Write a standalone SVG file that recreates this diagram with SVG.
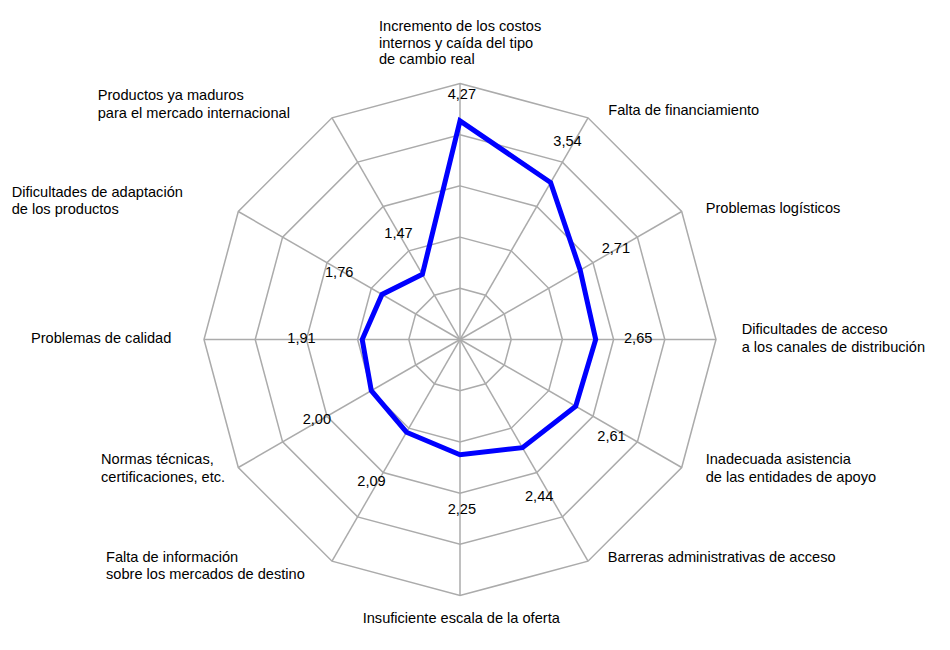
<svg xmlns="http://www.w3.org/2000/svg" width="950" height="650" viewBox="0 0 950 650">
<style>
  .grid { fill: none; stroke: #ababab; stroke-width: 1.5; stroke-linejoin: miter; }
  .spoke { stroke: #ababab; stroke-width: 1.5; }
  .series { fill: none; stroke: #0000ff; stroke-width: 5; stroke-linejoin: miter; }
  text { font-family: "Liberation Sans", Arial, sans-serif; font-size: 14.6px; fill: #000; }
</style>
<rect width="950" height="650" fill="#ffffff"/>
<g id="connectors" transform="translate(460,339.5)">
  <g id="rings">
    <polygon class="grid" points="0,-256 128,-221.7 221.7,-128 256,0 221.7,128 128,221.7 0,256 -128,221.7 -221.7,128 -256,0 -221.7,-128 -128,-221.7"/>
    <polygon class="grid" points="0,-204.8 102.4,-177.4 177.4,-102.4 204.8,0 177.4,102.4 102.4,177.4 0,204.8 -102.4,177.4 -177.4,102.4 -204.8,0 -177.4,-102.4 -102.4,-177.4"/>
    <polygon class="grid" points="0,-153.6 76.8,-133 133,-76.8 153.6,0 133,76.8 76.8,133 0,153.6 -76.8,133 -133,76.8 -153.6,0 -133,-76.8 -76.8,-133"/>
    <polygon class="grid" points="0,-102.4 51.2,-88.7 88.7,-51.2 102.4,0 88.7,51.2 51.2,88.7 0,102.4 -51.2,88.7 -88.7,51.2 -102.4,0 -88.7,-51.2 -51.2,-88.7"/>
    <polygon class="grid" points="0,-51.2 25.6,-44.3 44.3,-25.6 51.2,0 44.3,25.6 25.6,44.3 0,51.2 -25.6,44.3 -44.3,25.6 -51.2,0 -44.3,-25.6 -25.6,-44.3"/>
  </g>
  <g id="spokes">
    <line class="spoke" x1="0" y1="0" x2="0" y2="-256"/>
    <line class="spoke" x1="0" y1="0" x2="128" y2="-221.7"/>
    <line class="spoke" x1="0" y1="0" x2="221.7" y2="-128"/>
    <line class="spoke" x1="0" y1="0" x2="256" y2="0"/>
    <line class="spoke" x1="0" y1="0" x2="221.7" y2="128"/>
    <line class="spoke" x1="0" y1="0" x2="128" y2="221.7"/>
    <line class="spoke" x1="0" y1="0" x2="0" y2="256"/>
    <line class="spoke" x1="0" y1="0" x2="-128" y2="221.7"/>
    <line class="spoke" x1="0" y1="0" x2="-221.7" y2="128"/>
    <line class="spoke" x1="0" y1="0" x2="-256" y2="0"/>
    <line class="spoke" x1="0" y1="0" x2="-221.7" y2="-128"/>
    <line class="spoke" x1="0" y1="0" x2="-128" y2="-221.7"/>
  </g>
  <polygon id="series" class="series" points="0,-218.6 90.6,-157 120.2,-69.4 135.7,0 115.7,66.8 62.5,108.2 0,115.2 -53.5,92.7 -88.7,51.2 -97.8,0 -78,-45.1 -37.6,-65.2"/>
</g>
<g id="values">
  <text x="447.7" y="99">4,27</text>
  <text x="553.3" y="146">3,54</text>
  <text x="601.7" y="253">2,71</text>
  <text x="624" y="343.3">2,65</text>
  <text x="597.3" y="440.7">2,61</text>
  <text x="525" y="500.7">2,44</text>
  <text x="447.7" y="514.3">2,25</text>
  <text x="357.3" y="485.7">2,09</text>
  <text x="302.7" y="424.3">2,00</text>
  <text x="287.3" y="342.7">1,91</text>
  <text x="325" y="276.7">1,76</text>
  <text x="384.3" y="238.3">1,47</text>
</g>
<g id="node-0"><text x="379" y="30.7">Incremento de los costos</text><text x="379" y="47.6">internos y caída del tipo</text><text x="379" y="64.4">de cambio real</text></g>
<g id="node-1"><text x="608.3" y="115">Falta de financiamiento</text></g>
<g id="node-2"><text x="705.7" y="212.7">Problemas logísticos</text></g>
<g id="node-3"><text x="741.7" y="334">Dificultades de acceso</text><text x="741.7" y="351.5">a los canales de distribución</text></g>
<g id="node-4"><text x="705.7" y="464">Inadecuada asistencia</text><text x="705.7" y="481.6">de las entidades de apoyo</text></g>
<g id="node-5"><text x="607.7" y="561.7">Barreras administrativas de acceso</text></g>
<g id="node-6"><text x="362.7" y="623.3">Insuficiente escala de la oferta</text></g>
<g id="node-7"><text x="106" y="561.7">Falta de información</text><text x="106" y="579.3">sobre los mercados de destino</text></g>
<g id="node-8"><text x="101" y="464">Normas técnicas,</text><text x="101" y="481.7">certificaciones, etc.</text></g>
<g id="node-9"><text x="31" y="342.7">Problemas de calidad</text></g>
<g id="node-10"><text x="11.7" y="196.7">Dificultades de adaptación</text><text x="11.7" y="213.6">de los productos</text></g>
<g id="node-11"><text x="97.7" y="100">Productos ya maduros</text><text x="97.7" y="117.7">para el mercado internacional</text></g>
</svg>
